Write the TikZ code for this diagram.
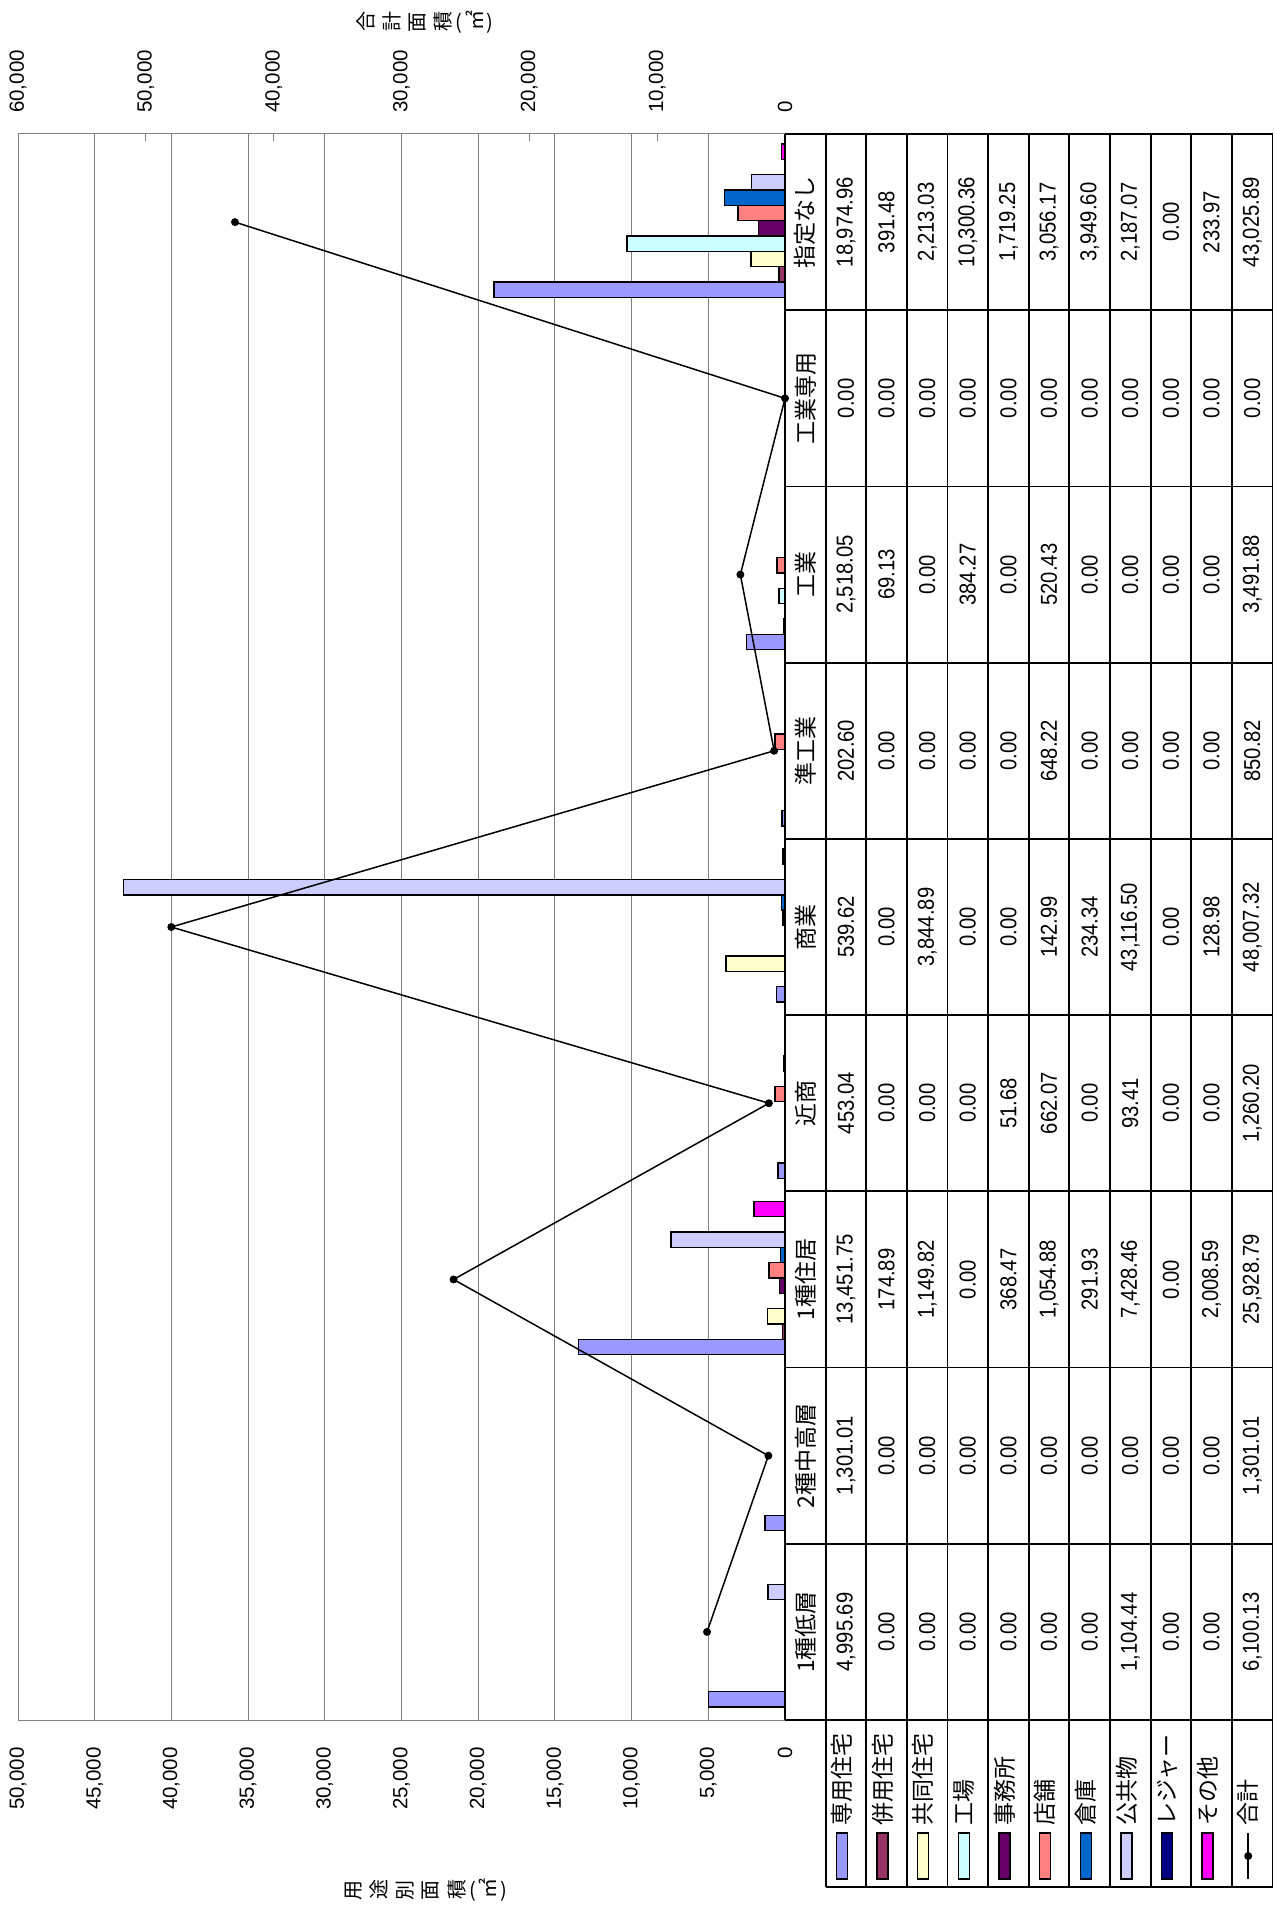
\documentclass[tikz,border=0pt]{standalone}
\usepackage{fontspec}
\setmainfont{Liberation Sans}
\newfontfamily\jp{Noto Sans CJK JP}
\newfontfamily\tnum{Liberation Sans}[FakeStretch=0.88]
\definecolor{senyo}{HTML}{9999FF}
\definecolor{heiyo}{HTML}{993366}
\definecolor{kyodo}{HTML}{FFFFCC}
\definecolor{kojo}{HTML}{CCFFFF}
\definecolor{jimusho}{HTML}{660066}
\definecolor{tenpo}{HTML}{FF8080}
\definecolor{soko}{HTML}{0066CC}
\definecolor{kokyo}{HTML}{CCCCFF}
\definecolor{leisure}{HTML}{000080}
\definecolor{sonota}{HTML}{FF00FF}
\def\zeroval{0.00}
\def\nocomma#1{\expandafter\nocommaA#1,,\relax}
\def\nocommaA#1,#2,#3\relax{#1#2}
\tikzset{
	grid line/.style={line width=1pt, color=black!50},
	bar/.style={draw=black, line width=1.4pt},
	tab line/.style={line width=1.8pt},
	cell/.style={rotate=90, inner sep=0pt, font=\tnum\fontsize{23}{23}\selectfont},
	head/.style={rotate=90, inner sep=0pt, font=\jp\fontsize{23}{23}\selectfont},
	axis num/.style={rotate=90, inner sep=0pt, font=\fontsize{20.5}{20.5}\selectfont},
	axis title/.style={inner sep=0pt, font=\jp\fontsize{20}{20}\selectfont},
	total line/.style={line width=1.5pt}
}

\begin{document}
\begin{tikzpicture}[x=1pt, y=-1pt]
		%%%%% START %%%%%
		\useasboundingbox (0,0) rectangle (1274,1905);
		
		\foreach \k in {1,...,10}
			\draw[grid line] ({785-\k*76.7},134) -- ({785-\k*76.7},1720);
		\draw[grid line] (18,134) -- (785,134);
		\draw[grid line] (18,1720) -- (785,1720);
		\foreach \k in {1,...,6}
			\draw[grid line] ({785-\k*127.83},134) -- ++(0,7);
		
		\foreach \lab [count=\k from 0] in {0,{5,000},{10,000},{15,000},{20,000},{25,000},{30,000},{35,000},{40,000},{45,000},{50,000}}
			\node[axis num, anchor=east] (pl\k) at ({785-\k*76.7},1747) {\lab};
		\foreach \lab [count=\k from 0] in {0,{10,000},{20,000},{30,000},{40,000},{50,000},{60,000}}
			\node[axis num, anchor=west] (sl\k) at ({785-\k*127.83},113) {\lab};
		
		\node[axis title] (ttlsum) at (425,22) {\rotatebox[origin=c]{90}{合}\hspace{8pt}\rotatebox[origin=c]{90}{計}\hspace{8pt}\rotatebox[origin=c]{90}{面}\hspace{8pt}\rotatebox[origin=c]{90}{積}\,(\,\rotatebox[origin=c]{90}{㎡}\,)};
		\node[axis title] (ttluse) at (426,1890) {\rotatebox[origin=c]{90}{用}\hspace{8pt}\rotatebox[origin=c]{90}{途}\hspace{8pt}\rotatebox[origin=c]{90}{別}\hspace{8pt}\rotatebox[origin=c]{90}{面}\hspace{8pt}\rotatebox[origin=c]{90}{積}\,(\,\rotatebox[origin=c]{90}{㎡}\,)};
		
		% table frame
		\foreach \k in {0,...,12}
			\draw[tab line] ({785+\k*40.625},134) -- ({785+\k*40.625},1720);
		\foreach \ci in {0,...,9}
			\draw[tab line] (785,{134+\ci*176.222}) -- (1272.5,{134+\ci*176.222});
		\foreach \k in {1,...,12}
			\draw[tab line] ({785+\k*40.625},1720) -- ({785+\k*40.625},1887);
		\draw[tab line] (825.6,1887) -- (1272.5,1887);
		
		\foreach \cat [count=\ci from 0] in {1種低層,2種中高層,1種住居,近商,商業,準工業,工業,工業専用,指定なし}
			\node[head] (hd\ci) at (805.3,{1720-(\ci+0.5)*176.222}) {\cat};
		
		\foreach \lbl/\col/\vals [count=\sr] in {
			専用住宅/senyo/{{4,995.69},{1,301.01},{13,451.75},{453.04},{539.62},{202.60},{2,518.05},{0.00},{18,974.96}},
			併用住宅/heiyo/{{0.00},{0.00},{174.89},{0.00},{0.00},{0.00},{69.13},{0.00},{391.48}},
			共同住宅/kyodo/{{0.00},{0.00},{1,149.82},{0.00},{3,844.89},{0.00},{0.00},{0.00},{2,213.03}},
			工場/kojo/{{0.00},{0.00},{0.00},{0.00},{0.00},{0.00},{384.27},{0.00},{10,300.36}},
			事務所/jimusho/{{0.00},{0.00},{368.47},{51.68},{0.00},{0.00},{0.00},{0.00},{1,719.25}},
			店舗/tenpo/{{0.00},{0.00},{1,054.88},{662.07},{142.99},{648.22},{520.43},{0.00},{3,056.17}},
			倉庫/soko/{{0.00},{0.00},{291.93},{0.00},{234.34},{0.00},{0.00},{0.00},{3,949.60}},
			公共物/kokyo/{{1,104.44},{0.00},{7,428.46},{93.41},{43,116.50},{0.00},{0.00},{0.00},{2,187.07}},
			レジャー/leisure/{{0.00},{0.00},{0.00},{0.00},{0.00},{0.00},{0.00},{0.00},{0.00}},
			その他/sonota/{{0.00},{0.00},{2,008.59},{0.00},{128.98},{0.00},{0.00},{0.00},{233.97}},
			合計/black/{{6,100.13},{1,301.01},{25,928.79},{1,260.20},{48,007.32},{850.82},{3,491.88},{0.00},{43,025.89}}}{
			\foreach \val [count=\ci from 0] in \vals {
				\edef\nv{\nocomma\val}
				\pgfmathsetmacro\yc{1720-(\ci+0.5)*176.222}
				\node[cell] (v\sr-\ci) at ({785+(\sr+0.5)*40.625},\yc) {\val};
				\ifnum\sr<11
					\ifx\nv\zeroval\else
						\edef\bx{\fpeval{785-\nv*767/50000}}
						\pgfmathsetmacro\ya{1720-\ci*176.222-13-(\sr-1)*15.324}
						\draw[bar, fill=\col] (\bx,\ya) rectangle (785,{\ya-15.324});
					\fi
				\else
					\edef\tx{\fpeval{785-\nv*767/60000}}
					\coordinate (tot\ci) at (\tx,\yc);
				\fi
			}
			\pgfmathsetmacro\lx{785+(\sr+0.5)*40.625-4}
			\ifnum\sr<11
				\draw[bar, fill=\col] ({\lx-5.5},1833) rectangle ({\lx+5.5},1879);
			\else
				\draw[total line] (\lx,1833) -- (\lx,1879);
				\fill (\lx,1856) circle (4pt);
			\fi
			\node[head, anchor=west] (lg\sr) at (\lx,1826) {\lbl};
		}
		
		\draw[total line] (tot0) -- (tot1) -- (tot2) -- (tot3) -- (tot4) -- (tot5) -- (tot6) -- (tot7) -- (tot8);
		\foreach \ci in {0,...,8}
			\fill (tot\ci) circle (4pt);
		
		%%%%% END %%%%%
\end{tikzpicture}
\end{document}
